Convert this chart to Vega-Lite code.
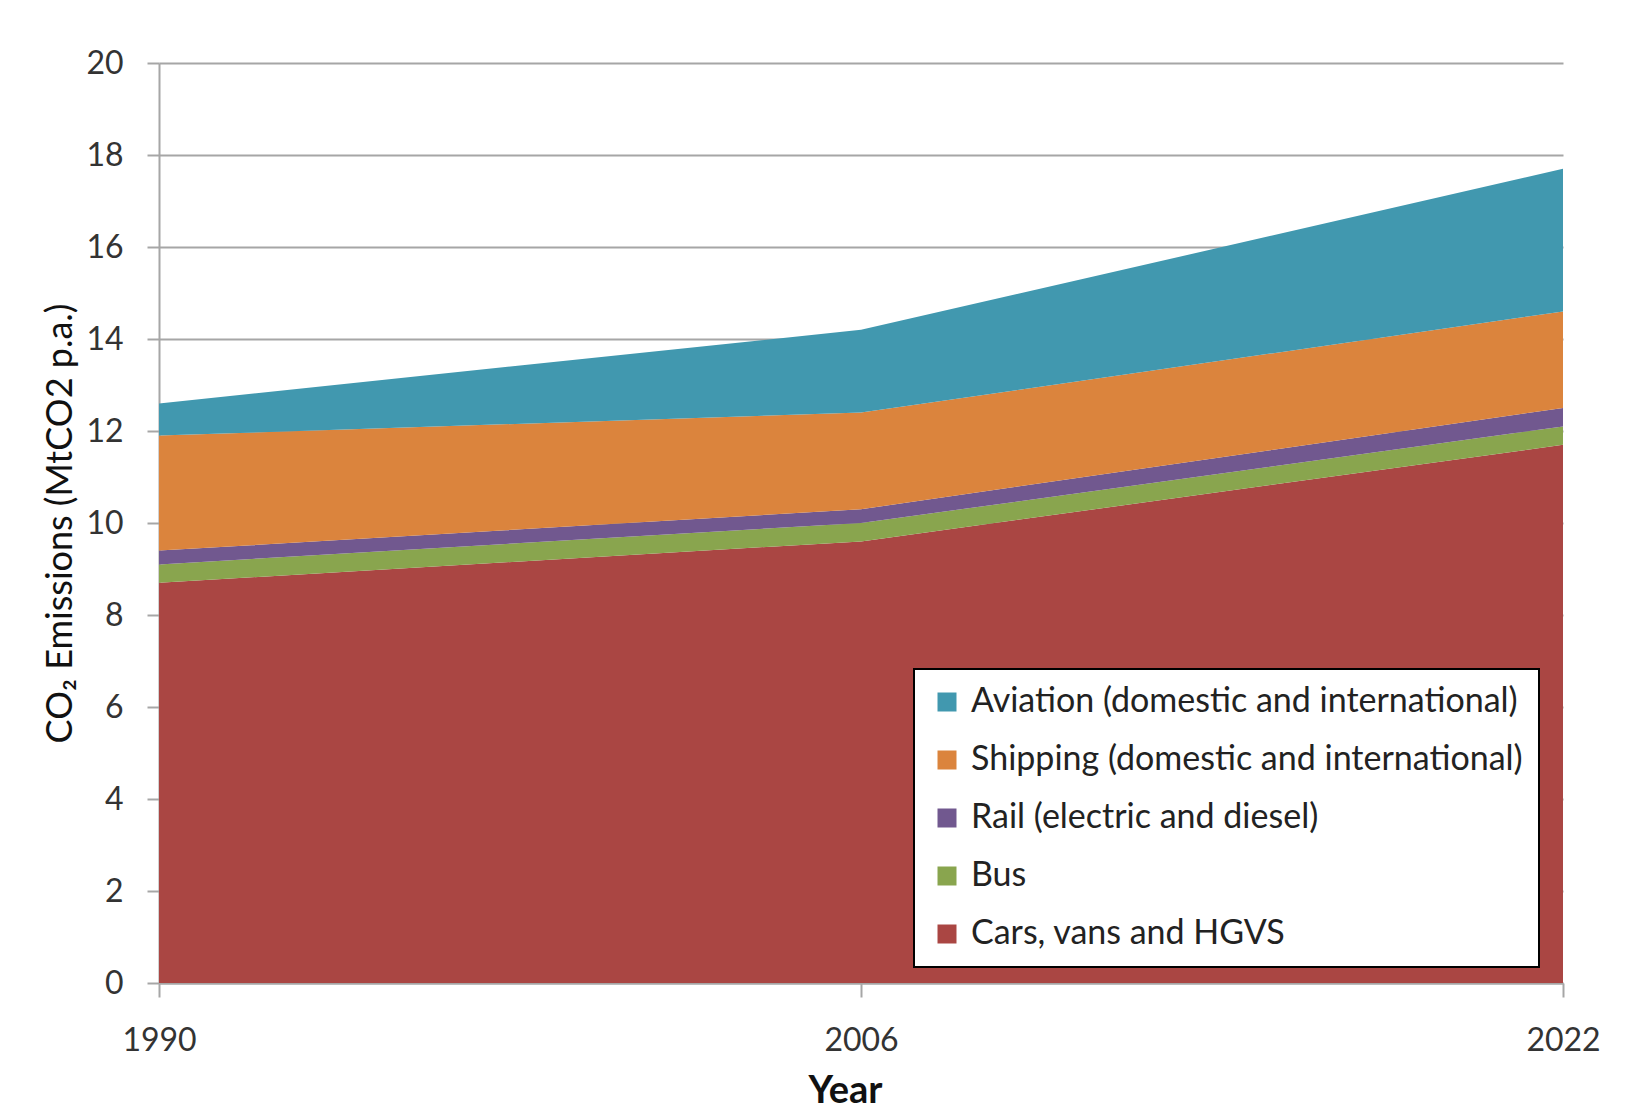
{
  "$schema": "https://vega.github.io/schema/vega-lite/v6.json",
  "autosize": {"type": "none"},
  "width": 1404,
  "height": 920,
  "padding": {"left": 159, "top": 63, "right": 63, "bottom": 131},
  "background": "white",
  "data": {
    "values": [
      {"year": 1990, "mode": "Cars, vans and HGVS", "order": 1, "value": 8.7},
      {"year": 1990, "mode": "Bus", "order": 2, "value": 0.4},
      {"year": 1990, "mode": "Rail (electric and diesel)", "order": 3, "value": 0.3},
      {"year": 1990, "mode": "Shipping (domestic and international)", "order": 4, "value": 2.5},
      {"year": 1990, "mode": "Aviation (domestic and international)", "order": 5, "value": 0.7},
      {"year": 2006, "mode": "Cars, vans and HGVS", "order": 1, "value": 9.6},
      {"year": 2006, "mode": "Bus", "order": 2, "value": 0.4},
      {"year": 2006, "mode": "Rail (electric and diesel)", "order": 3, "value": 0.3},
      {"year": 2006, "mode": "Shipping (domestic and international)", "order": 4, "value": 2.1},
      {"year": 2006, "mode": "Aviation (domestic and international)", "order": 5, "value": 1.8},
      {"year": 2022, "mode": "Cars, vans and HGVS", "order": 1, "value": 11.7},
      {"year": 2022, "mode": "Bus", "order": 2, "value": 0.4},
      {"year": 2022, "mode": "Rail (electric and diesel)", "order": 3, "value": 0.4},
      {"year": 2022, "mode": "Shipping (domestic and international)", "order": 4, "value": 2.1},
      {"year": 2022, "mode": "Aviation (domestic and international)", "order": 5, "value": 3.1}
    ]
  },
  "mark": {"type": "area", "interpolate": "linear"},
  "encoding": {
    "x": {
      "field": "year",
      "type": "quantitative",
      "scale": {"domain": [1990, 2022], "nice": false, "zero": false},
      "axis": {
        "values": [1990, 2006, 2022],
        "format": "d",
        "title": "Year",
        "grid": false,
        "labelFlush": false,
        "tickSize": 14,
        "tickColor": "#A6A6A6",
        "tickWidth": 2,
        "domainColor": "#A6A6A6",
        "domainWidth": 2,
        "labelPadding": 28,
        "labelFont": "Lato",
        "labelFontSize": 32,
        "labelColor": "#333333",
        "titleFont": "Lato",
        "titleFontSize": 38,
        "titleFontWeight": "bold",
        "titleColor": "#111111",
        "titlePadding": 16,
        "titleX": 686
      }
    },
    "y": {
      "field": "value",
      "type": "quantitative",
      "stack": "zero",
      "scale": {"domain": [0, 20], "nice": false},
      "axis": {
        "values": [0, 2, 4, 6, 8, 10, 12, 14, 16, 18, 20],
        "title": "CO₂ Emissions (MtCO2 p.a.)",
        "grid": true,
        "gridColor": "#A6A6A6",
        "gridWidth": 2,
        "tickSize": 12,
        "tickColor": "#A6A6A6",
        "tickWidth": 2,
        "domainColor": "#A6A6A6",
        "domainWidth": 2,
        "labelPadding": 24,
        "labelFont": "Lato",
        "labelFontSize": 32,
        "labelColor": "#333333",
        "titleFont": "Lato",
        "titleFontSize": 36,
        "titleFontWeight": "normal",
        "titleColor": "#111111",
        "titlePadding": 6
      }
    },
    "color": {
      "field": "mode",
      "type": "nominal",
      "scale": {
        "domain": [
          "Aviation (domestic and international)",
          "Shipping (domestic and international)",
          "Rail (electric and diesel)",
          "Bus",
          "Cars, vans and HGVS"
        ],
        "range": ["#4198AF", "#DB843D", "#71588F", "#89A54E", "#AA4643"]
      },
      "legend": {
        "title": null,
        "orient": "none",
        "legendX": 755,
        "legendY": 606,
        "fillColor": "white",
        "strokeColor": "#000000",
        "padding": 16,
        "symbolType": "square",
        "symbolSize": 361,
        "symbolStrokeWidth": 0,
        "labelFont": "Lato",
        "labelFontSize": 34,
        "labelColor": "#222222",
        "labelLimit": 800,
        "labelOffset": 7,
        "rowPadding": 24
      }
    },
    "order": {"field": "order", "type": "quantitative"}
  },
  "config": {"view": {"stroke": null}, "legend": {"strokeWidth": 2}}
}
